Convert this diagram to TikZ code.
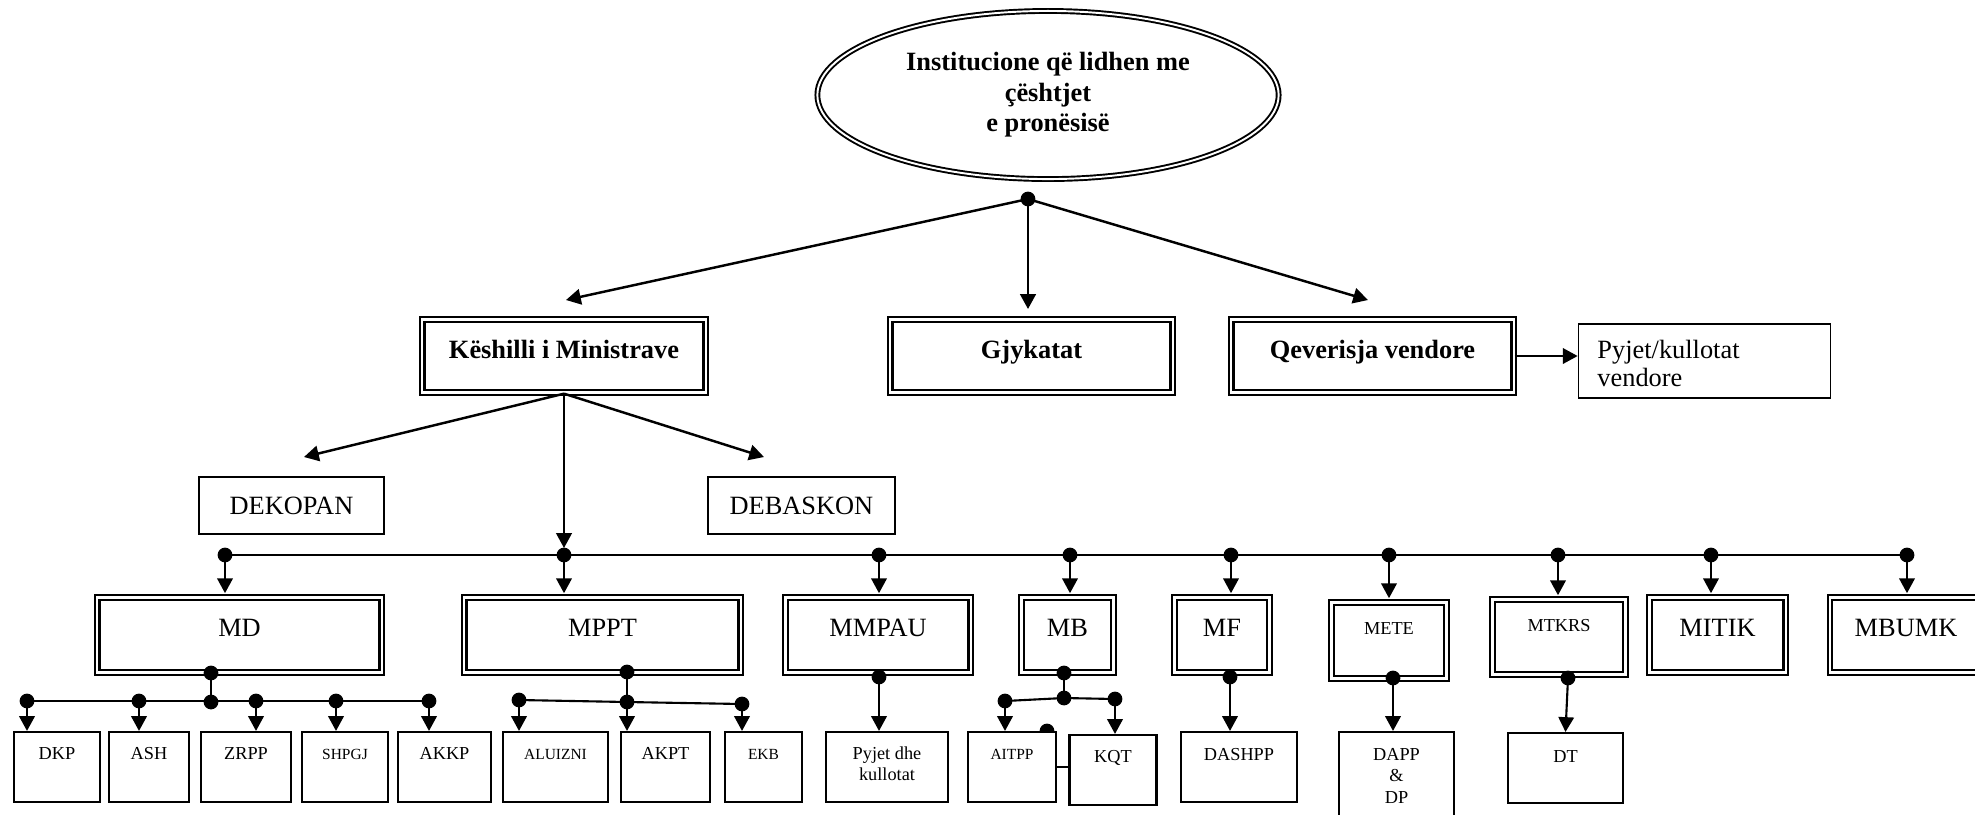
\documentclass[tikz,border=0pt]{standalone}
\usepackage{fontspec}
\setmainfont{Liberation Serif}
\usetikzlibrary{shapes.geometric, arrows.meta}

\newcommand\fntL{\fontsize{7.5}{8.6}\selectfont}
\newcommand\fntS{\fontsize{5.2}{6.2}\selectfont}
\newcommand\fntT{\fontsize{4.4}{5.3}\selectfont}
\newcommand\cellstack[1]{\begin{tabular}[t]{@{}c@{}}#1\end{tabular}}

\tikzset{
  arr/.style={-{Triangle[length=4.2pt,width=4.4pt]}, line width=0.6pt},
  arrd/.style={arr, shorten >=0.9pt},
  bus/.style={line width=0.45pt},
  dblbox/.style={draw, line width=0.65pt, double, double distance=0.6pt, fill=white, inner ysep=0pt, font=\fntL},
  topbox/.style={dblbox, font=\fntL\bfseries, minimum width=2.83cm, text height=0.385cm, text depth=0.345cm},
  minbox/.style={dblbox, text height=0.385cm, text depth=0.365cm},
  subbox/.style={draw, line width=0.6pt, fill=white, inner ysep=0pt, font=\fntS, text height=0.27cm, text depth=0.43cm},
  plainbox/.style={draw, line width=0.45pt, fill=white, inner ysep=0pt, font=\fntL},
}

\begin{document}
\begin{tikzpicture}[x=0.01cm, y=-0.01cm]
    \useasboundingbox (0,0) rectangle (1975,814);

    % Top ellipse
    \node[ellipse, draw, line width=0.55pt, double, double distance=0.55pt, minimum width=4.61cm, minimum height=1.68cm, inner sep=0pt, align=center, font=\fntL\bfseries] (inst) at (1048,95) {\raisebox{-0.04cm}{\cellstack{Institucione që lidhen me\\çështjet\\e pronësisë}}};

    % First level
    \node[topbox] (KM) at (564,356) {Këshilli i Ministrave};
    \node[topbox, minimum width=2.82cm] (GJ) at (1031.5,356) {Gjykatat};
    \node[topbox, minimum width=2.82cm] (QV) at (1372.5,356) {Qeverisja vendore};
    \node[plainbox, inner xsep=0.19cm, text height=0.345cm, text depth=0.395cm] (PV) at (1704.5,361) {\parbox[t]{2.14cm}{\fontsize{7.5}{8.1}\selectfont Pyjet/kullotat\\vendore}};

    \node[plainbox, minimum width=1.85cm, minimum height=0.57cm] (DEK) at (291.5,505.5) {DEKOPAN};
    \node[plainbox, minimum width=1.87cm, minimum height=0.57cm] (DEB) at (801.5,505.5) {DEBASKON};

    % Ministries
    \foreach \n/\x/\w in {MD/239.5/2.84cm, MPPT/602.5/2.76cm, MMPAU/878/1.85cm, MB/1067.5/0.92cm, MF/1222/0.95cm, MITIK/1717.5/1.36cm, MBUMK/1906/1.52cm}
      \node[minbox, minimum width=\w] (\n) at (\x,635) {\n};
    \node[minbox, font=\fntS, minimum width=1.15cm, text height=0.315cm, text depth=0.445cm] (METE) at (1389,640.5) {METE};
    \node[minbox, font=\fntS, minimum width=1.33cm, text height=0.315cm, text depth=0.435cm] (MTKRS) at (1559,637) {MTKRS};

    % Agencies
    \foreach \n/\x/\w/\f in {DKP/57/0.86cm/\fntS, ASH/149/0.80cm/\fntS, ZRPP/246/0.90cm/\fntS, SHPGJ/345/0.86cm/\fntT, AKKP/444.5/0.93cm/\fntS, ALUIZNI/555.5/1.05cm/\fntT, AKPT/665.5/0.89cm/\fntS, EKB/763.5/0.77cm/\fntT}
      \node[subbox, minimum width=\w, font=\f] (\n) at (\x,767) {\n};
    \node[subbox, minimum width=1.22cm] (PK) at (887,767) {\cellstack{Pyjet dhe\\kullotat}};
    \fill (1047,731) circle[radius=2.1pt];
    \node[subbox, font=\fntT, minimum width=0.88cm] (AITPP) at (1012,767) {AITPP};
    \node[subbox, minimum width=0.87cm] (KQT) at (1113,770) {KQT};
    \node[subbox, minimum width=1.16cm, text height=0.28cm, text depth=0.42cm] (DASHPP) at (1239,767) {DASHPP};
    \node[subbox, minimum width=1.15cm, text height=0.28cm, text depth=0.80cm] (DAPP) at (1396.5,786) {\cellstack{DAPP\\\&\\DP}};
    \node[subbox, minimum width=1.15cm, text height=0.29cm, text depth=0.41cm] (DT) at (1565.5,768) {DT};

    % Arrows from the top
    \coordinate (top) at (1028,199);
    \coordinate (tKM) at (566,300);
    \coordinate (tGJ) at (1028,309);
    \coordinate (tQV) at (1368,300);
    \fill (top) circle[radius=2.1pt];
    \foreach \t in {tKM, tGJ, tQV}
      \draw[arr, line width=0.7pt] (top) -- (\t);
    \draw[arr] (QV.east) -- (QV.east -| PV.west);

    % Arrows from the government
    \coordinate (tDEK) at (304,457);
    \coordinate (tDEB) at (764,457);
    \coordinate (tBUS) at (564,548);
    \draw[arr, line width=0.7pt] (KM.south) -- (tDEK);
    \draw[arr, line width=0.7pt] (KM.south) -- (tDEB);
    \draw[arr] (KM.south) -- (tBUS);

    % Bus to the ministries
    \foreach \n/\x in {MD/225, MPPT/564, MMPAU/879, MB/1070, MF/1231, METE/1389, MTKRS/1558, MITIK/1711, MBUMK/1907} {
      \coordinate (b\n) at (\x,555);
      \fill (b\n) circle[radius=2.1pt];
      \draw[arrd] (b\n) -- (b\n |- \n.north);
    }
    \draw[bus] (bMD) -- (bMBUMK);

    % MD branch
    \coordinate (mdA) at (211,673);
    \coordinate (mdJ) at (211,702);
    \foreach \n/\x in {DKP/27, ASH/139, ZRPP/256, SHPGJ/336, AKKP/429} {
      \coordinate (s\n) at (\x,701);
      \fill (s\n) circle[radius=2.1pt];
      \draw[arr] (s\n) -- (s\n |- \n.north);
    }
    \draw[line width=0.6pt] (sDKP) -- (sAKKP);
    \draw[line width=0.6pt] (mdA) -- (mdJ);
    \fill (mdA) circle[radius=2.1pt] (mdJ) circle[radius=2.1pt];

    % MPPT branch
    \coordinate (mpA) at (627,672);
    \coordinate (mpJ) at (627,702);
    \coordinate (sALUIZNI) at (519,700);
    \coordinate (sEKB) at (742,704);
    \draw[line width=0.6pt] (sALUIZNI) -- (mpJ) -- (sEKB);
    \draw[line width=0.6pt] (mpA) -- (mpJ);
    \foreach \c in {mpA, mpJ, sALUIZNI, sEKB}
      \fill (\c) circle[radius=2.1pt];
    \draw[arr] (sALUIZNI) -- (sALUIZNI |- ALUIZNI.north);
    \draw[arr] (mpJ) -- (mpJ |- AKPT.north);
    \draw[arr] (sEKB) -- (sEKB |- EKB.north);

    % MMPAU branch
    \coordinate (mmA) at (879,677);
    \fill (mmA) circle[radius=2.1pt];
    \draw[arr] (mmA) -- (mmA |- PK.north);

    % MB branch
    \coordinate (mbA) at (1064,673);
    \coordinate (mbJ) at (1064,698);
    \coordinate (sAITPP) at (1005,701);
    \coordinate (sKQT) at (1115,699);
    \draw[line width=0.6pt] (sAITPP) -- (mbJ) -- (sKQT);
    \draw[line width=0.6pt] (mbA) -- (mbJ);
    \foreach \c in {mbA, mbJ, sAITPP, sKQT}
      \fill (\c) circle[radius=2.1pt];
    \draw[arr] (sAITPP) -- (sAITPP |- AITPP.north);
    \draw[arr] (sKQT) -- (sKQT |- KQT.north);
    \draw[line width=0.6pt] (AITPP.east) -- (AITPP.east -| KQT.west);

    % MF, METE, MTKRS branches
    \coordinate (mfA) at (1230,677);
    \coordinate (meA) at (1393,678);
    \coordinate (mtA) at (1568,678);
    \foreach \c in {mfA, meA, mtA}
      \fill (\c) circle[radius=2.1pt];
    \draw[arr] (mfA) -- (mfA |- DASHPP.north);
    \draw[arr] (meA) -- (meA |- DAPP.north);
    \draw[arr] (mtA) -- (DT.north);
\end{tikzpicture}
\end{document}
